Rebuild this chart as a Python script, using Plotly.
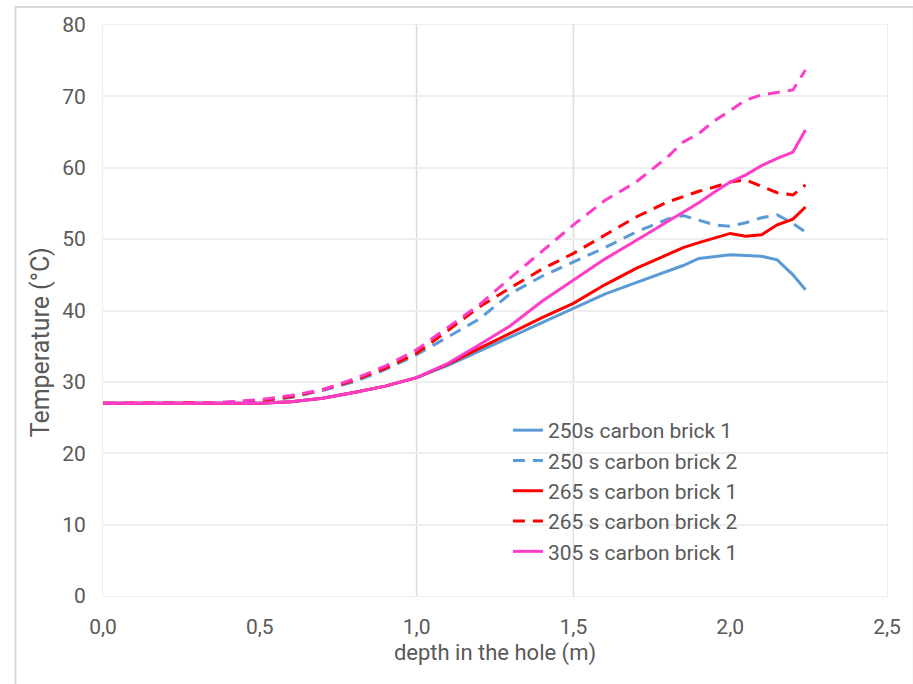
import plotly.graph_objects as go

# depth along the hole (m)
depth = [0.0, 0.1, 0.2, 0.3, 0.4, 0.5, 0.6, 0.7, 0.8, 0.9, 1.0, 1.1, 1.2, 1.3,
         1.4, 1.5, 1.6, 1.7, 1.8, 1.85, 1.9, 1.95, 2.0, 2.05, 2.1, 2.15, 2.2, 2.24]

# temperature profiles (°C)
t250_b1 = [27.0, 27.0, 27.0, 27.0, 27.0, 27.0, 27.2, 27.7, 28.5, 29.4, 30.6, 32.3, 34.3, 36.3,
           38.3, 40.3, 42.3, 43.9, 45.5, 46.3, 47.3, 47.6, 47.8, 47.7, 47.6, 47.1, 45.0, 42.9]
t250_b2 = [27.0, 27.0, 27.0, 27.0, 27.05, 27.3, 27.8, 28.8, 30.0, 31.7, 33.8, 36.3, 38.8, 42.4,
           44.8, 46.8, 48.8, 51.0, 52.8, 53.3, 52.7, 52.0, 51.8, 52.3, 53.0, 53.4, 52.2, 51.0]
t265_b1 = [27.0, 27.0, 27.0, 27.0, 27.0, 27.0, 27.2, 27.7, 28.5, 29.4, 30.6, 32.5, 34.7, 36.9,
           39.0, 41.0, 43.6, 45.9, 47.9, 48.8, 49.5, 50.2, 50.8, 50.4, 50.6, 52.0, 52.8, 54.5]
t265_b2 = [27.0, 27.0, 27.0, 27.0, 27.1, 27.4, 27.9, 28.9, 30.2, 31.9, 34.0, 37.2, 40.5, 43.2,
           45.8, 48.0, 50.6, 53.1, 55.2, 56.0, 56.7, 57.3, 58.0, 58.3, 57.4, 56.5, 56.2, 57.6]
t305_b1 = [27.0, 27.0, 27.0, 27.0, 27.0, 27.0, 27.2, 27.7, 28.5, 29.4, 30.6, 32.6, 35.2, 37.9,
           41.3, 44.2, 47.2, 49.8, 52.5, 53.8, 55.1, 56.6, 58.0, 59.0, 60.3, 61.3, 62.2, 65.3]
t305_b2 = [27.0, 27.0, 27.0, 27.0, 27.2, 27.5, 28.1, 28.9, 30.4, 32.2, 34.5, 37.6, 40.8, 44.6,
           48.3, 52.0, 55.4, 58.0, 61.5, 63.6, 64.8, 66.6, 68.0, 69.5, 70.2, 70.6, 70.9, 73.7]

x_ticks = [0.0, 0.5, 1.0, 1.5, 2.0, 2.5]
y_ticks = [0, 10, 20, 30, 40, 50, 60, 70, 80]

BLUE = "#5B9BD5"
RED = "#FF0000"
PINK = "#FF3CC8"
DASH = "12px,8px"

series = [
    ("250s carbon brick 1", t250_b1, BLUE, "solid", True),
    ("250 s carbon brick 2", t250_b2, BLUE, DASH, True),
    ("265 s carbon brick 1", t265_b1, RED, "solid", True),
    ("265 s carbon brick 2", t265_b2, RED, DASH, True),
    ("305 s carbon brick 1", t305_b1, PINK, "solid", True),
    ("305 s carbon brick 2", t305_b2, PINK, DASH, False),
]

fig = go.Figure()
for name, temps, color, dash, show in series:
    fig.add_trace(go.Scatter(
        x=depth, y=temps, name=name, mode="lines",
        line=dict(color=color, width=3, dash=dash),
        showlegend=show,
    ))

W, H = 913, 684
L, R, T, B = 103, 22, 25, 88
pw, ph = W - L - R, H - T - B

def px_x(p):
    return (p - L) / pw

def px_y(p):
    return (H - B - p) / ph

shapes = []
# vertical reference lines
for xv in (1.0, 1.5):
    shapes.append(dict(type="line", xref="x", yref="y", x0=xv, x1=xv, y0=0, y1=80,
                       line=dict(color="#dcdcdc", width=1.5), layer="below"))
# outer frame
shapes.append(dict(type="rect", xref="paper", yref="paper",
                   x0=px_x(15), x1=px_x(W + 5), y0=px_y(H + 5), y1=px_y(7),
                   line=dict(color="#d9d9d9", width=2), layer="below"))

fig.update_layout(
    width=W, height=H,
    margin=dict(l=L, r=R, t=T, b=B),
    paper_bgcolor="white", plot_bgcolor="white",
    separators=", ",
    font=dict(family="Roboto, Arial, sans-serif", color="#595959", size=21),
    shapes=shapes,
    showlegend=True,
    legend=dict(
        x=px_x(510), y=px_y(410), xanchor="left", yanchor="top",
        bgcolor="rgba(0,0,0,0)", tracegroupgap=0,
        font=dict(size=21, color="#595959"), itemwidth=30,
    ),
    annotations=[dict(
        text="Temperature (°C)", textangle=-90, showarrow=False,
        xref="paper", yref="paper", x=px_x(40), y=px_y(342),
        xanchor="center", yanchor="middle",
        font=dict(size=25, color="#595959"),
    )],
    xaxis=dict(
        range=[0, 2.5], tickvals=x_ticks, tickformat=".1f",
        showgrid=False, zeroline=False,
        showline=True, mirror=True, linecolor="#eeeeee", linewidth=1,
        ticks="", ticklabelstandoff=12,
        title=dict(text="depth in the hole (m)", font=dict(size=22), standoff=6),
        tickfont=dict(size=21),
    ),
    yaxis=dict(
        range=[0, 80], tickvals=y_ticks,
        showgrid=True, gridcolor="#eeeeee", gridwidth=1.5, zeroline=False,
        showline=True, mirror=True, linecolor="#eeeeee", linewidth=1,
        ticks="", ticklabelstandoff=12,
        tickfont=dict(size=21),
    ),
)

fig.write_html("out.html")
